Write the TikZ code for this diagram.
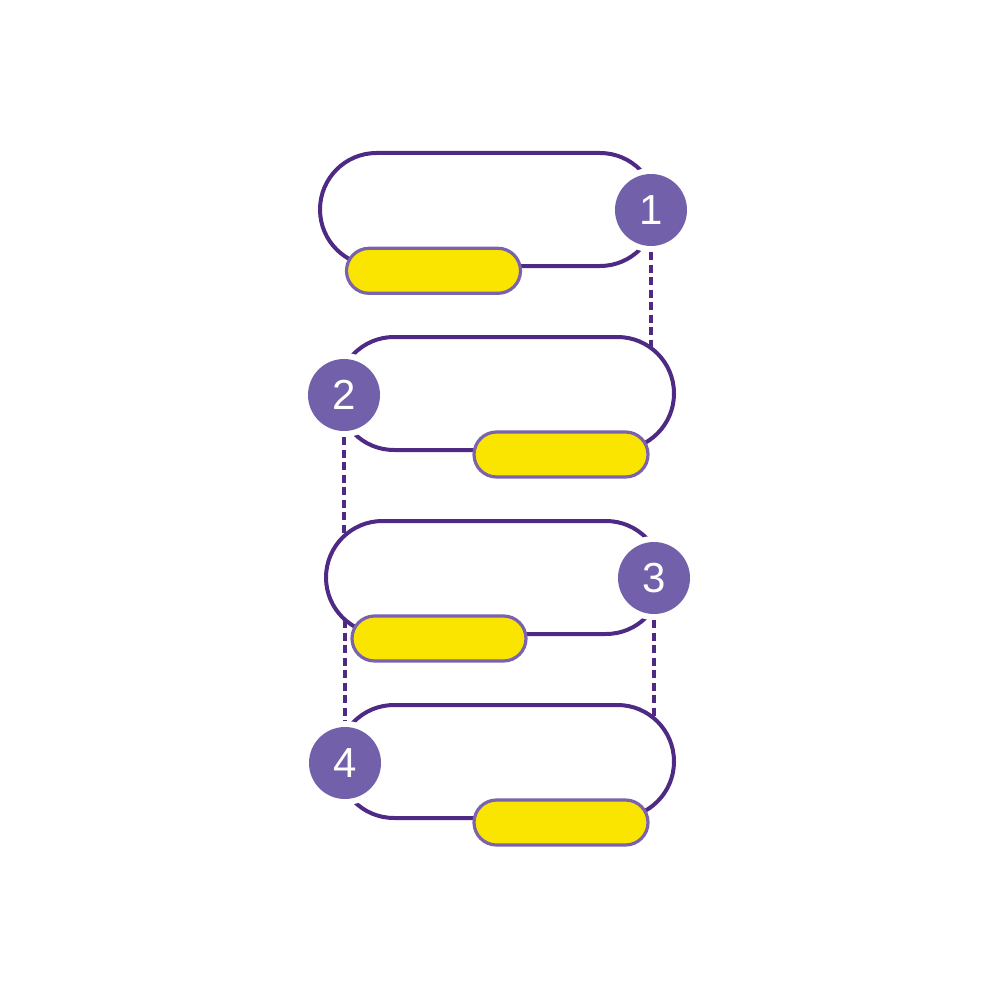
\documentclass[tikz,border=0pt]{standalone}
\usepackage{fontspec}
\setmainfont{Liberation Sans}
\definecolor{outlinepurple}{HTML}{4E2A84}
\definecolor{circpurple}{HTML}{7360AA}
\definecolor{pillyellow}{HTML}{FAE500}
\definecolor{pillborder}{HTML}{7A62AD}
\tikzset{
  bigpill/.style={draw=outlinepurple, line width=4pt, rectangle, rounded corners=56.5pt,
    minimum width=336.5pt, minimum height=113pt, inner sep=0pt},
  smallpill/.style={draw=pillborder, fill=pillyellow, line width=3.2pt, rectangle, rounded corners=22.5pt,
    minimum width=174pt, minimum height=45pt, inner sep=0pt},
  numcirc/.style={circle, fill=circpurple, minimum size=72pt, inner sep=0pt,
    preaction={draw=white, line width=12pt}, text=white,
    font=\fontsize{42}{42}\selectfont},
  dashline/.style={draw=outlinepurple, line width=4pt, dash pattern=on 8pt off 4.5pt}
}
\begin{document}
\begin{tikzpicture}[x=1pt, y=-1pt]
\useasboundingbox (0,0) rectangle (1000,1000);
% outlines
\node[bigpill] (p1) at (488.25,209.5) {};
\node[bigpill] (p2) at (505.75,393.5) {};
\node[bigpill] (p3) at (494.25,577.5) {};
\node[bigpill] (p4) at (505.75,761.5) {};
% dashed connector end points on the outlines
\coordinate (d1) at (651,348);
\coordinate (d2) at (344,536);
\coordinate (d3) at (345,620);
\coordinate (d4) at (654,718.4);
% number circles
\node[numcirc] (c1) at (651,210) {1};
\node[numcirc] (c2) at (344,395) {2};
\node[numcirc] (c3) at (654,578) {3};
\node[numcirc] (c4) at (345,763) {4};
% dashed connectors
\draw[dashline, shorten <=6pt] (c1.south) -- (d1);
\draw[dashline, shorten <=6pt] (c2.south) -- (d2);
\draw[dashline, shorten >=6pt] (d3) -- (c4.north);
\draw[dashline, shorten <=6pt] (c3.south) -- (d4);
% yellow pills
\node[smallpill] (y1) at (433.5,270.8) {};
\node[smallpill] (y2) at (561,454.5) {};
\node[smallpill] (y3) at (439,638.5) {};
\node[smallpill] (y4) at (561,822.5) {};
\end{tikzpicture}
\end{document}
